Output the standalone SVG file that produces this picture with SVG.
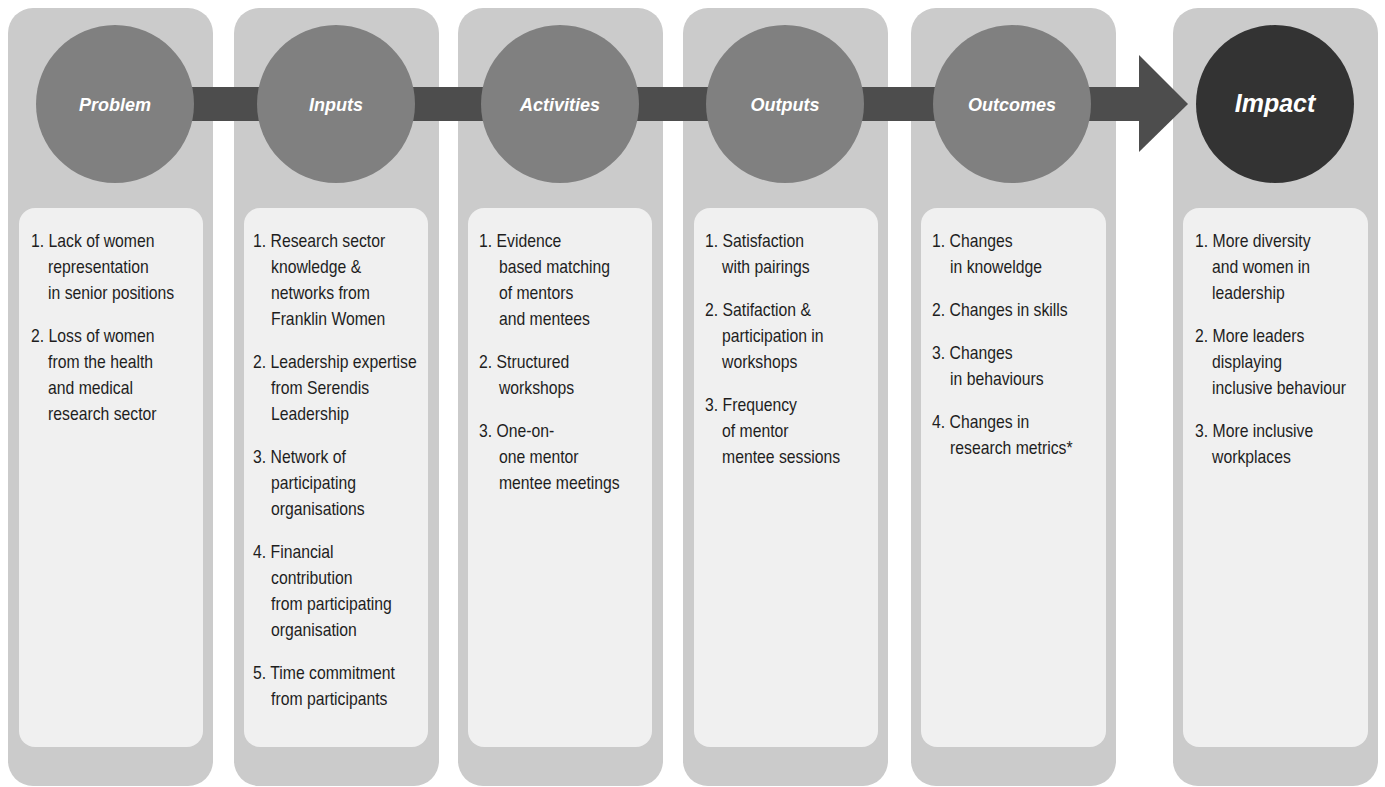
<svg xmlns="http://www.w3.org/2000/svg" width="1385" height="787" viewBox="0 0 1385 787">
<style>
.outer{fill:#cbcbcb}
.inner{fill:#f0f0f0}
.circ{fill:#808080}
.circd{fill:#333333}
.title{font-family:"Liberation Sans",Arial,sans-serif;font-style:italic;font-weight:bold;font-size:18px;fill:#ffffff;text-anchor:middle}
.big{font-size:25px}
.body{font-family:"Liberation Sans",Arial,sans-serif;font-size:19px;fill:#1e1e1e}
.bar{fill:#4d4d4d}
</style>
<rect width="1385" height="787" fill="#ffffff"/>
<g id="panels-bg">
<rect class="outer" x="8" y="8" width="205" height="778" rx="25"/>
<rect class="outer" x="234" y="8" width="205" height="778" rx="25"/>
<rect class="outer" x="458" y="8" width="205" height="778" rx="25"/>
<rect class="outer" x="683" y="8" width="205" height="778" rx="25"/>
<rect class="outer" x="911" y="8" width="205" height="778" rx="25"/>
<rect class="outer" x="1173" y="8" width="205" height="778" rx="25"/>
</g>
<g id="connectors">
<rect class="bar" x="115" y="87" width="1024" height="34"/>
<polygon class="bar" points="1139,55 1188,104 1139,152"/>
</g>
<g id="problem">
<circle class="circ" cx="115" cy="104" r="79"/>
<text class="title" x="115" y="111">Problem</text>
<rect class="inner" x="19" y="208" width="184" height="539" rx="16"/>
<g transform="translate(31,0) scale(0.83,1)">
<text class="body" x="0" y="247">1. Lack of women</text>
<text class="body" x="20.5" y="273">representation</text>
<text class="body" x="20.5" y="299">in senior positions</text>
<text class="body" x="0" y="342">2. Loss of women</text>
<text class="body" x="20.5" y="368">from the health</text>
<text class="body" x="20.5" y="394">and medical</text>
<text class="body" x="20.5" y="420">research sector</text>
</g>
</g>
<g id="inputs">
<circle class="circ" cx="336" cy="104" r="79"/>
<text class="title" x="336" y="111">Inputs</text>
<rect class="inner" x="244" y="208" width="184" height="539" rx="16"/>
<g transform="translate(253,0) scale(0.83,1)">
<text class="body" x="0" y="247">1. Research sector</text>
<text class="body" x="21.7" y="273">knowledge &amp;</text>
<text class="body" x="21.7" y="299">networks from</text>
<text class="body" x="21.7" y="325">Franklin Women</text>
<text class="body" x="0" y="368">2. Leadership expertise</text>
<text class="body" x="21.7" y="394">from Serendis</text>
<text class="body" x="21.7" y="420">Leadership</text>
<text class="body" x="0" y="463">3. Network of</text>
<text class="body" x="21.7" y="489">participating</text>
<text class="body" x="21.7" y="515">organisations</text>
<text class="body" x="0" y="558">4. Financial</text>
<text class="body" x="21.7" y="584">contribution</text>
<text class="body" x="21.7" y="610">from participating</text>
<text class="body" x="21.7" y="636">organisation</text>
<text class="body" x="0" y="679">5. Time commitment</text>
<text class="body" x="21.7" y="705">from participants</text>
</g>
</g>
<g id="activities">
<circle class="circ" cx="560" cy="104" r="79"/>
<text class="title" x="560" y="111">Activities</text>
<rect class="inner" x="468" y="208" width="184" height="539" rx="16"/>
<g transform="translate(479,0) scale(0.83,1)">
<text class="body" x="0" y="247">1. Evidence</text>
<text class="body" x="24" y="273">based matching</text>
<text class="body" x="24" y="299">of mentors</text>
<text class="body" x="24" y="325">and mentees</text>
<text class="body" x="0" y="368">2. Structured</text>
<text class="body" x="24" y="394">workshops</text>
<text class="body" x="0" y="437">3. One-on-</text>
<text class="body" x="24" y="463">one mentor</text>
<text class="body" x="24" y="489">mentee meetings</text>
</g>
</g>
<g id="outputs">
<circle class="circ" cx="785" cy="104" r="79"/>
<text class="title" x="785" y="111">Outputs</text>
<rect class="inner" x="694" y="208" width="184" height="539" rx="16"/>
<g transform="translate(705,0) scale(0.83,1)">
<text class="body" x="0" y="247">1. Satisfaction</text>
<text class="body" x="20.5" y="273">with pairings</text>
<text class="body" x="0" y="316">2. Satifaction &amp;</text>
<text class="body" x="20.5" y="342">participation in</text>
<text class="body" x="20.5" y="368">workshops</text>
<text class="body" x="0" y="411">3. Frequency</text>
<text class="body" x="20.5" y="437">of mentor</text>
<text class="body" x="20.5" y="463">mentee sessions</text>
</g>
</g>
<g id="outcomes">
<circle class="circ" cx="1012" cy="104" r="79"/>
<text class="title" x="1012" y="111">Outcomes</text>
<rect class="inner" x="921" y="208" width="185" height="539" rx="16"/>
<g transform="translate(932,0) scale(0.83,1)">
<text class="body" x="0" y="247">1. Changes</text>
<text class="body" x="21.7" y="273">in knoweldge</text>
<text class="body" x="0" y="316">2. Changes in skills</text>
<text class="body" x="0" y="359">3. Changes</text>
<text class="body" x="21.7" y="385">in behaviours</text>
<text class="body" x="0" y="428">4. Changes in</text>
<text class="body" x="21.7" y="454">research metrics*</text>
</g>
</g>
<g id="impact">
<circle class="circd" cx="1275" cy="104" r="79"/>
<text class="title big" x="1275" y="112">Impact</text>
<rect class="inner" x="1183" y="208" width="185" height="539" rx="16"/>
<g transform="translate(1195,0) scale(0.83,1)">
<text class="body" x="0" y="247">1. More diversity</text>
<text class="body" x="20.5" y="273">and women in</text>
<text class="body" x="20.5" y="299">leadership</text>
<text class="body" x="0" y="342">2. More leaders</text>
<text class="body" x="20.5" y="368">displaying</text>
<text class="body" x="20.5" y="394">inclusive behaviour</text>
<text class="body" x="0" y="437">3. More inclusive</text>
<text class="body" x="20.5" y="463">workplaces</text>
</g>
</g>
</svg>
